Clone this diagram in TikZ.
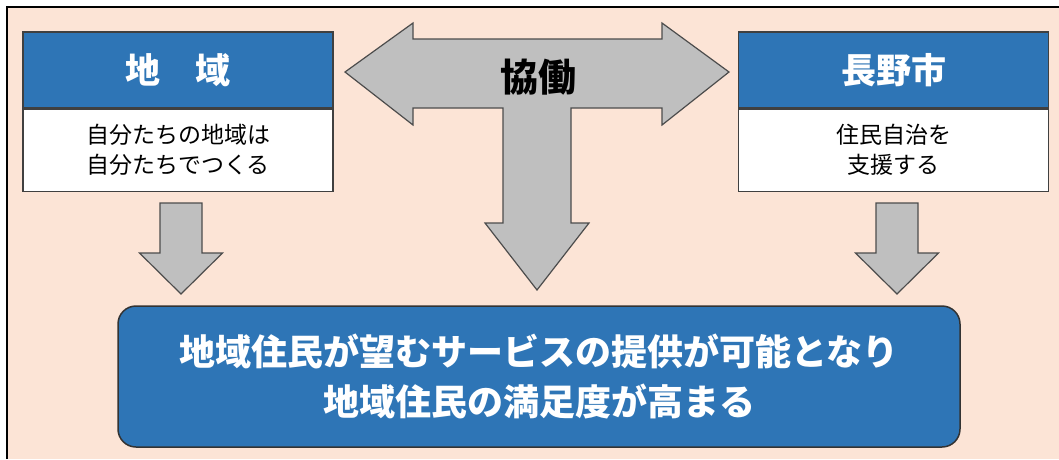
\documentclass[tikz,border=0pt]{standalone}
\usepackage{fontspec}
\usepackage{tikz}
\usetikzlibrary{positioning,calc}
\newfontfamily\jp{Noto Sans CJK JP}
\definecolor{peach}{HTML}{FCE4D6}
\definecolor{boxblue}{HTML}{2E75B6}
\definecolor{arrowgray}{HTML}{BFBFBF}
\tikzset{
    headbox/.style={draw=black!75, line width=1.2pt, fill=boxblue, text=white,
        minimum width=310pt, minimum height=76pt, inner sep=0pt,
        font=\jp\bfseries\fontsize{35}{40}\selectfont},
    textbox/.style={draw=black!75, line width=1.2pt, fill=white, align=center,
        minimum width=310pt, minimum height=82pt, inner sep=0pt,
        font=\jp\fontsize{23}{30}\selectfont},
    goalbox/.style={draw=black!80, line width=1.5pt, fill=boxblue, text=white,
        rounded corners=18pt, align=center, minimum width=842pt, minimum height=141pt,
        inner sep=0pt, font=\jp\bfseries\fontsize{36}{50}\selectfont},
    blockarrow/.style={draw=black!70, line width=1.2pt, fill=arrowgray, line join=miter}
}
\begin{document}
\begin{tikzpicture}[x=1pt, y=-1pt]
    \useasboundingbox (0,0) rectangle (1059,459);
    % Background frame
    \fill[peach] (7,7) rectangle (1059,459);
    \draw[line width=2.5pt] (7,459) -- (7,7) -- (1059,7);

    % Left box
    \node[headbox] (chiiki) at (178,70) {地　域};
    \node[textbox, below=0pt of chiiki] (chiikitxt) {自分たちの地域は\\自分たちでつくる};

    % Right box
    \node[headbox] (shi) at (893.5,70) {長野市};
    \node[textbox, below=0pt of shi] (shitxt) {住民自治を\\支援する};

    % Goal box
    \node[goalbox] (goal) at (539,376.5) {地域住民が望むサービスの提供が可能となり\\地域住民の満足度が高まる};

    % T arrow (kyodo)
    \draw[blockarrow] (345,72) -- (413,23) -- (413,39) -- (662,39) -- (662,23) -- (729,72)
        -- (662,125) -- (662,108) -- (571,108) -- (571,223) -- (589,223) -- (537,290)
        -- (485,223) -- (503,223) -- (503,108) -- (413,108) -- (413,125) -- cycle;
    \node[font=\jp\bfseries\fontsize{38}{40}\selectfont] (kyodo) at (538,77) {協働};

    % Small down arrows
    \foreach \cx in {181,897}{
        \draw[blockarrow] (\cx-21,203) -- (\cx+21,203) -- (\cx+21,253) -- (\cx+41.5,253)
            -- (\cx,294) -- (\cx-41.5,253) -- (\cx-21,253) -- cycle;
    }
\end{tikzpicture}
\end{document}
